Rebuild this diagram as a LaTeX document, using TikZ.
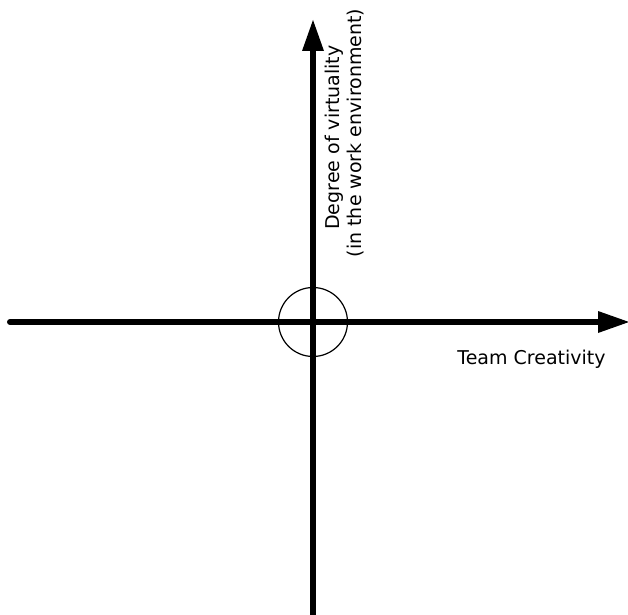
\documentclass[tikz,border=0pt]{standalone}
\usepackage{fontspec}
\setmainfont{DejaVu Sans}
\usetikzlibrary{arrows.meta}
\begin{document}
\begin{tikzpicture}[x=1pt,y=1pt,
  axis/.style={line width=6pt,line cap=round,-{Triangle[length=31pt,width=22pt,line width=0pt]}},
  lbl/.style={font=\fontsize{19}{23}\selectfont,inner sep=0pt}]
\useasboundingbox (0,0) rectangle (628,614);
\coordinate (xs) at (10,292);
\coordinate (xe) at (629,292);
\coordinate (ys) at (313,-4);
\coordinate (ye) at (313,594);
\coordinate (o) at (313,292);
\draw[axis] (xs) -- (xe);
\draw[axis] (ys) -- (ye);
\node[draw,circle,line width=1.2pt,minimum size=69pt,inner sep=0pt] (c) at (o) {};
\node[lbl,rotate=90,anchor=base] (l1) at (339.5,476.5) {Degree of virtuality};
\node[lbl,rotate=90,anchor=base] (l2) at (361.5,481) {(in the work environment)};
\node[lbl,anchor=base] (tc) at (531.5,250) {Team Creativity};
\end{tikzpicture}
\end{document}
